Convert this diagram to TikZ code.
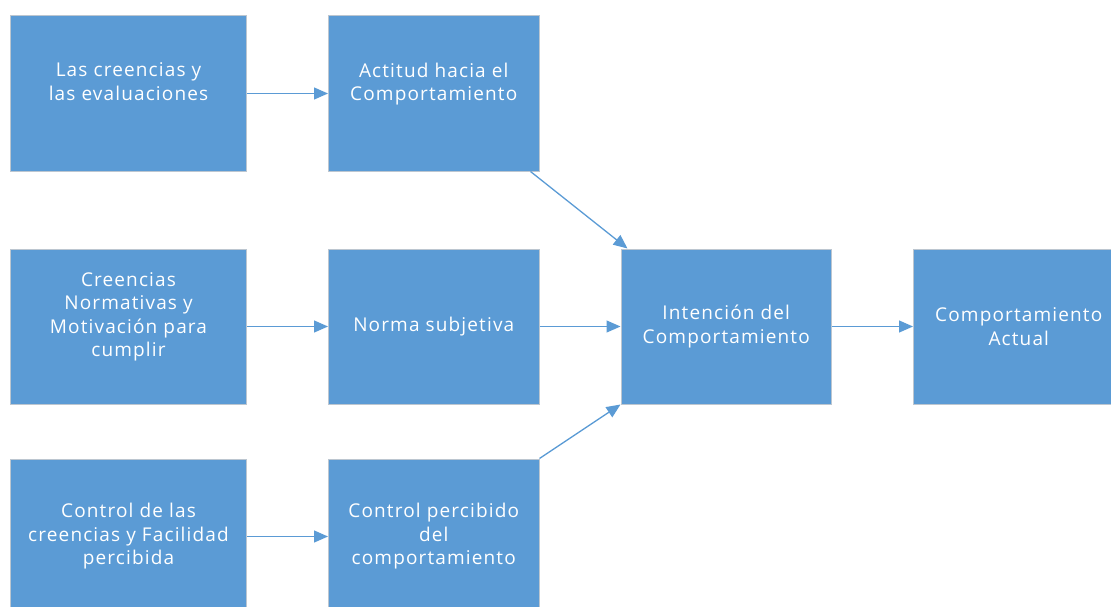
\documentclass[tikz,border=0pt]{standalone}
\usepackage{fontspec}
\setmainfont{Open Sans}[LetterSpace=6]
\usetikzlibrary{positioning,arrows.meta}
\definecolor{azul}{HTML}{5B9BD5}
\definecolor{borde}{HTML}{BCC6D0}

\begin{document}
\begin{tikzpicture}[x=1pt,y=1pt,
  caja/.style={draw=borde, line width=1pt, fill=azul, text=white, inner sep=0pt,
    minimum height=155pt, align=center, font=\fontsize{19}{23.5}\selectfont},
  ancha/.style={caja, minimum width=236pt},
  media/.style={caja, minimum width=210.5pt},
  flecha/.style={draw=azul, line width=1.3pt, -{Triangle[length=14pt,width=12pt]}}]
\useasboundingbox (0,0) rectangle (1111,-607);
\node [ancha] (creen) at (128.5,-93.5) {Las creencias y\\las evaluaciones\\\mbox{}};
\node [media, right=81pt of creen] (actit) {Actitud hacia el\\Comportamiento\\\mbox{}};
\node [ancha, below=77pt of creen] (normc) {Creencias\\Normativas y\\Motivación para\\cumplir\\\mbox{}};
\node [media, right=81pt of normc] (subj) {Norma subjetiva};
\node [media, right=81pt of subj] (intenc) {Intención del\\Comportamiento};
\node [media, right=81pt of intenc] (comp) {Comportamiento\\Actual};
\node [ancha, below=54pt of normc] (ctrlc) {Control de las\\creencias y Facilidad\\percibida};
\node [media, right=81pt of ctrlc] (percib) {Control percibido\\del\\comportamiento};
\draw [flecha] (creen) -- (actit);
\draw [flecha] (normc) -- (subj);
\draw [flecha] (subj) -- (intenc);
\draw [flecha] (intenc) -- (comp);
\draw [flecha] (ctrlc) -- (percib);
\draw [flecha] ([xshift=-9pt]actit.south east) -- ([xshift=7pt]intenc.north west);
\draw [flecha] (percib.north east) -- (intenc.south west);
\end{tikzpicture}
\end{document}
